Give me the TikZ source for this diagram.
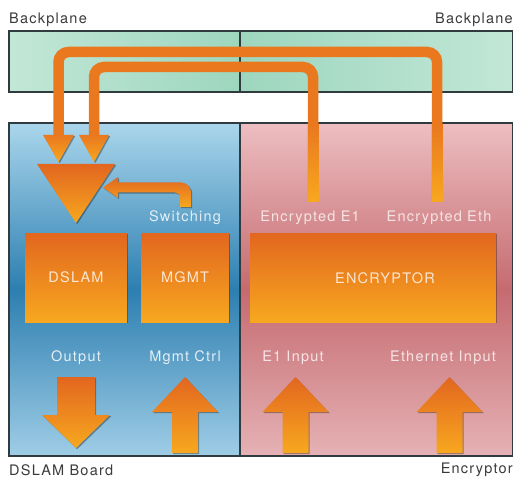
\documentclass[tikz,border=0pt]{standalone}
\usepackage{fontspec}
\setmainfont{TeX Gyre Heros}[LetterSpace=8.5]
\usetikzlibrary{shadows}
\definecolor{orT}{HTML}{E2661F}
\definecolor{orB}{HTML}{F7A81F}
\definecolor{loopc}{HTML}{E9781F}
\definecolor{blT}{HTML}{AAD6EC}
\definecolor{blM}{HTML}{2D7FB1}
\definecolor{blB}{HTML}{9FCDE6}
\definecolor{pkT}{HTML}{EDBEC1}
\definecolor{pkM}{HTML}{C56B70}
\definecolor{pkB}{HTML}{E5B2B5}
\definecolor{grL}{HTML}{C2E7D7}
\definecolor{grD}{HTML}{9DD6BE}
\definecolor{edge}{HTML}{2F3B3E}
\definecolor{outtxt}{HTML}{3A3A3A}
\definecolor{bltxt}{HTML}{E4EEF3}
\definecolor{pktxt}{HTML}{F6E4E4}
\definecolor{boxtxt}{HTML}{FBE6D2}
\begin{document}
\begin{tikzpicture}[x=1pt,y=-1pt,
  txt/.style={font=\fontsize{14.5}{16}\selectfont, text=#1, inner sep=0pt},
  shad/.style={drop shadow={shadow xshift=1.2pt, shadow yshift=-1.2pt, opacity=0.35, fill=black}},
  orbox/.style={shad, top color=orT, bottom color=orB, draw=none, inner sep=0pt,
    font=\fontsize{14.5}{16}\selectfont, text=boxtxt},
  orshape/.style={shad, top color=orT, bottom color=orB},
  loopbar/.style={draw=loopc, line width=10.5pt, rounded corners=10pt},
  panel/.style={draw=edge, line width=1.2pt}]
\useasboundingbox (0,0) rectangle (513,478);

% backplane
\shade[left color=grL, right color=grD] (9,31) rectangle (240,92);
\shade[left color=grD, right color=grL] (240,31) rectangle (512.4,92);
\draw[panel] (9,31) rectangle (512.4,92) (240,31) -- (240,92);

% boards
\shade[top color=blT, bottom color=blB, middle color=blM] (9,123) rectangle (240,456);
\shade[top color=pkT, bottom color=pkB, middle color=pkM] (240,123) rectangle (512.4,456);
\draw[panel] (9,123) rectangle (512.4,456) (240,123) -- (240,456);

% outer labels
\node[txt=outtxt, anchor=west] (backL) at (9,19.5) {Backplane};
\node[txt=outtxt, anchor=east] (backR) at (513,19.5) {Backplane};
\node[txt=outtxt, anchor=west] (boardL) at (9,470) {DSLAM Board};
\node[txt=outtxt, anchor=east] (boardR) at (513,470) {Encryptor};

% loops
\coordinate (e1) at (313,202);
\coordinate (eth) at (437,202);
\coordinate (inA) at (94,137);
\coordinate (outA) at (58.5,137);
\draw[loopbar] (eth) -- (eth |- 0,52) -- (outA |- 0,52) -- (outA);
\draw[loopbar] (e1) -- (e1 |- 0,67) -- (inA |- 0,67) -- (inA);
\shade[top color=loopc, bottom color=orB] (307.75,124) rectangle (318.25,202);
\shade[top color=loopc, bottom color=orB] (431.75,124) rectangle (442.25,202);

% arrowheads into funnel
\shade[orshape, top color=loopc] (43,135) -- (74,135) -- (58.5,162) -- cycle;
\shade[orshape, top color=loopc] (79,135) -- (109,135) -- (94,162) -- cycle;

% funnel
\shade[orshape] (37,164) -- (115,164) -- (76,223) -- cycle;

% switching arrow
\shade[orshape] (180,207) [rounded corners=5pt] -- (180,192.5) [sharp corners] -- (118,192.5) -- (118,198)
  -- (103,187.5) -- (118,177) -- (118,182.5) [rounded corners=10pt] -- (191,182.5) [sharp corners] -- (191,207) -- cycle;

% panel labels
\node[txt=bltxt] (sw) at (185,218) {Switching};
\node[txt=pktxt] (encE1) at (310,218) {Encrypted E1};
\node[txt=pktxt] (encEth) at (439,218) {Encrypted Eth};

% boxes
\node[orbox, minimum width=102pt, minimum height=89pt] (dslam) at (76,277.5) {DSLAM};
\node[orbox, minimum width=88pt, minimum height=89pt] (mgmt) at (185,277.5) {MGMT};
\node[orbox, minimum width=246pt, minimum height=89pt] (encr) at (373,277.5) {};
\node[txt=boxtxt] (encrtxt) at (385,278) {ENCRYPTOR};

% bottom labels
\node[txt=bltxt] (outl) at (76,358) {Output};
\node[txt=bltxt] (mgmtl) at (185,358) {Mgmt Ctrl};
\node[txt=pktxt] (e1l) at (293,358) {E1 Input};
\node[txt=pktxt] (ethl) at (443,358) {Ethernet Input};

% bottom arrows
\shade[orshape] (57,377) -- (95,377) -- (95,415) -- (110,415) -- (76,448) -- (42,415) -- (57,415) -- cycle;
\foreach \c in {185,295.5,449.5}{
  \shade[orshape] (\c,377) -- (\c+33,412) -- (\c+13,412) -- (\c+13,453) -- (\c-13,453) -- (\c-13,412) -- (\c-33,412) -- cycle;
}
\end{tikzpicture}
\end{document}
